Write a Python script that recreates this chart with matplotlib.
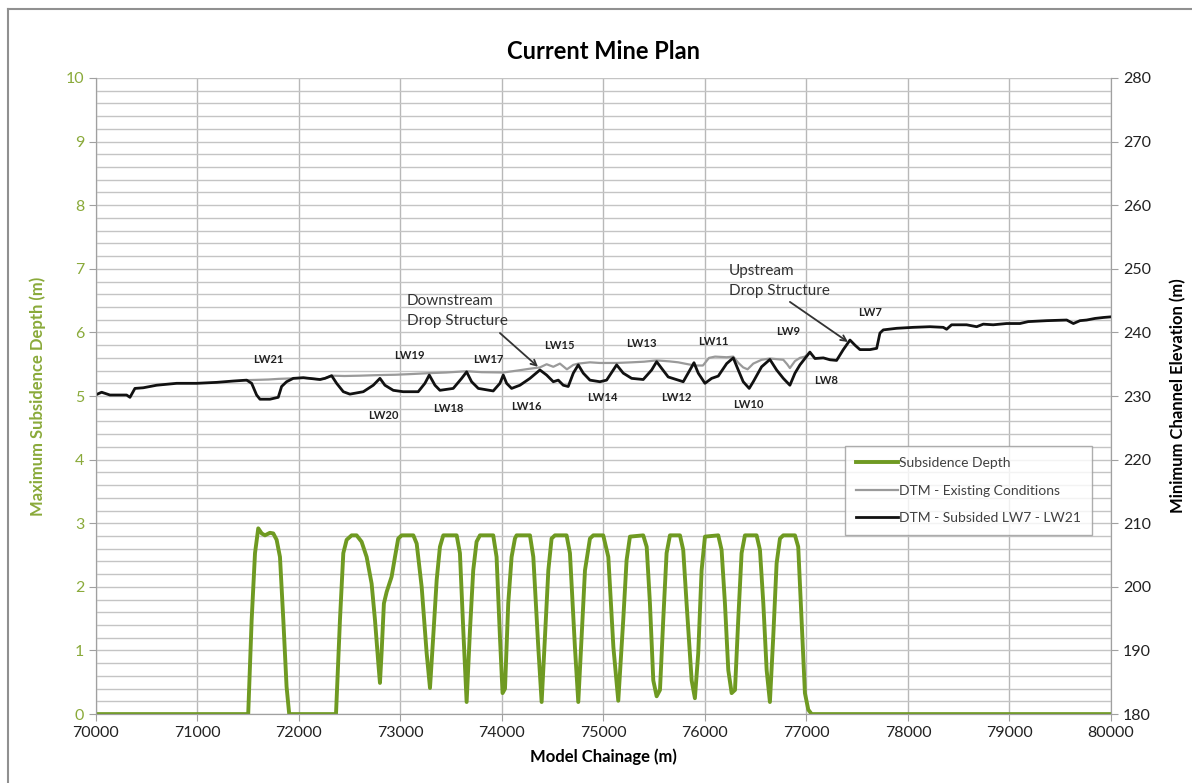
import matplotlib.pyplot as plt
from matplotlib.lines import Line2D
import numpy as np

plt.rcParams['font.family'] = ['Lato', 'DejaVu Sans']

# subsidence depth (m) along chainage
sub_chain = [70000, 71500, 71534, 71567, 71599, 71633, 71665, 71714, 71747, 71780, 71813, 71846,
             71878, 71904, 72365, 72404, 72437, 72470, 72519, 72568, 72617, 72667, 72716, 72749,
             72782, 72798, 72814, 72837, 72864, 72913, 72946, 72978, 73012, 73127, 73160, 73209,
             73258, 73291, 73323, 73357, 73389, 73422, 73554, 73586, 73619, 73652, 73685, 73717,
             73750, 73783, 73914, 73947, 73980, 74006, 74030, 74062, 74095, 74128, 74144, 74276,
             74309, 74358, 74391, 74424, 74457, 74489, 74522, 74637, 74670, 74719, 74752, 74785,
             74818, 74867, 74900, 74998, 75048, 75098, 75146, 75195, 75228, 75261, 75392, 75426,
             75458, 75491, 75524, 75557, 75589, 75622, 75655, 75754, 75786, 75819, 75869, 75901,
             75934, 75967, 76000, 76131, 76164, 76197, 76230, 76263, 76296, 76328, 76361, 76394,
             76509, 76542, 76575, 76608, 76640, 76673, 76706, 76739, 76772, 76887, 76919, 76952,
             76985, 77018, 77051, 80000]
sub_depth = [0, 0, 1.48, 2.53, 2.92, 2.84, 2.81, 2.85, 2.84, 2.74, 2.47, 1.48,
             0.43, 0, 0, 1.48, 2.53, 2.74, 2.81, 2.81, 2.71, 2.47, 2.05, 1.48,
             0.80, 0.49, 0.96, 1.74, 1.92, 2.16, 2.47, 2.76, 2.81, 2.81, 2.68, 2.0,
             0.96, 0.41, 1.22, 2.11, 2.63, 2.81, 2.81, 2.53, 1.32, 0.19, 1.32, 2.26,
             2.71, 2.81, 2.81, 2.47, 1.22, 0.33, 0.40, 1.74, 2.47, 2.76, 2.81, 2.81,
             2.47, 1.05, 0.19, 1.22, 2.26, 2.76, 2.81, 2.81, 2.53, 1.05, 0.19, 1.22,
             2.26, 2.76, 2.81, 2.81, 2.47, 1.05, 0.21, 1.48, 2.42, 2.79, 2.81, 2.63,
             1.74, 0.53, 0.28, 0.38, 1.48, 2.53, 2.81, 2.81, 2.58, 1.74, 0.53, 0.25,
             0.96, 2.26, 2.79, 2.81, 2.58, 1.74, 0.69, 0.33, 0.38, 1.48, 2.53, 2.81,
             2.81, 2.58, 1.74, 0.69, 0.19, 1.22, 2.37, 2.76, 2.81, 2.81, 2.63, 1.48,
             0.33, 0.07, 0, 0]

# DTM - existing conditions (visible part, elsewhere under the subsided line)
ex_chain = [71485, 71600, 71700, 71800, 71944, 72043, 72207, 72256, 72322, 72450, 72600, 72798,
            72950, 73100, 73284, 73450, 73652, 73800, 74013, 74150, 74276, 74374, 74440, 74506,
            74571, 74640, 74703, 74752, 74867, 74965, 75130, 75278, 75400, 75524, 75650, 75737,
            75800, 75900, 75980, 76040, 76100, 76214, 76279, 76330, 76377, 76420, 76476, 76558,
            76640, 76706, 76772, 76810, 76837, 76887, 76936, 76985, 77034]
ex_elev = [232.5, 232.55, 232.6, 232.7, 232.78, 232.88, 232.6, 232.78, 233.2, 233.15, 233.2, 233.3,
           233.35, 233.45, 233.6, 233.7, 233.9, 233.75, 233.7, 234.0, 234.3, 234.5, 235.0, 234.6,
           235.1, 234.2, 234.9, 235.1, 235.3, 235.2, 235.2, 235.3, 235.4, 235.6, 235.45, 235.3,
           235.1, 234.8, 234.8, 236.0, 236.2, 236.1, 236.2, 235.2, 234.5, 234.2, 235.1, 235.7,
           235.9, 235.8, 235.7, 235.0, 234.4, 235.5, 236.0, 236.2, 236.9]

# DTM - subsided LW7 - LW21
sb_chain = [70000, 70056, 70138, 70302, 70335, 70384, 70466, 70598, 70795, 70992, 71189, 71353,
            71485, 71534, 71583, 71616, 71714, 71796, 71829, 71878, 71944, 72043, 72207, 72256,
            72322, 72371, 72437, 72502, 72634, 72732, 72798, 72847, 72929, 73027, 73175, 73241,
            73284, 73340, 73389, 73520, 73603, 73652, 73701, 73767, 73914, 73980, 74013, 74046,
            74095, 74177, 74276, 74374, 74440, 74506, 74555, 74604, 74653, 74703, 74752, 74801,
            74867, 74965, 75031, 75130, 75195, 75278, 75392, 75475, 75524, 75573, 75638, 75737,
            75786, 75852, 75892, 75934, 76000, 76066, 76131, 76214, 76279, 76328, 76377, 76436,
            76476, 76558, 76640, 76706, 76772, 76837, 76887, 76936, 76985, 77034, 77084, 77166,
            77232, 77297, 77363, 77429, 77478, 77527, 77626, 77692, 77724, 77757, 77889, 78052,
            78217, 78348, 78381, 78430, 78578, 78677, 78742, 78840, 78972, 79103, 79185, 79367,
            79564, 79630, 79695, 79761, 79843, 79925, 80000]
sb_elev = [230.2, 230.6, 230.16, 230.16, 229.8, 231.2, 231.3, 231.7, 232.0, 232.0, 232.15, 232.36,
           232.5, 232.0, 230.16, 229.5, 229.5, 229.8, 231.5, 232.25, 232.78, 232.88, 232.6, 232.78,
           233.2, 232.0, 230.68, 230.3, 230.68, 231.7, 232.78, 231.7, 230.9, 230.68, 230.68, 232.0,
           233.3, 231.7, 230.9, 231.2, 232.78, 233.8, 232.25, 231.2, 230.8, 232.0, 233.3, 232.0,
           231.2, 231.7, 232.78, 234.1, 233.3, 232.25, 232.5, 231.7, 231.5, 233.6, 234.9, 233.6,
           232.5, 232.25, 232.5, 234.9, 233.6, 232.78, 232.6, 234.1, 235.4, 234.36, 233.0, 232.5,
           232.25, 234.1, 235.24, 233.6, 232.0, 232.78, 233.14, 235.1, 236.0, 234.1, 232.25, 231.2,
           232.25, 234.6, 235.75, 234.1, 232.78, 231.7, 233.6, 234.9, 235.9, 236.9, 235.9, 236.0,
           235.7, 235.6, 237.3, 238.8, 238.0, 237.3, 237.3, 237.5, 239.9, 240.4, 240.65, 240.8,
           240.9, 240.8, 240.5, 241.2, 241.2, 240.9, 241.3, 241.2, 241.4, 241.4, 241.7, 241.85,
           241.95, 241.4, 241.85, 241.95, 242.2, 242.35, 242.45]

# longwall labels: name, chainage, elevation
lw_names = ['LW21', 'LW20', 'LW19', 'LW18', 'LW17', 'LW16', 'LW15', 'LW14',
            'LW13', 'LW12', 'LW11', 'LW10', 'LW9', 'LW8', 'LW7']
lw_chain = [71694, 72827, 73084, 73468, 73862, 74236, 74562, 74985,
            75369, 75714, 76079, 76424, 76818, 77192, 77626]
lw_elev = [235.8, 227.0, 236.4, 228.0, 235.7, 228.4, 237.9, 229.8,
           238.2, 229.7, 238.6, 228.7, 240.2, 232.5, 243.2]

green = '#6f9a22'
tick_green = '#8aaa3a'

fig = plt.figure(figsize=(11.92, 7.83), dpi=100)
ax = fig.add_axes([0.0805, 0.088, 0.8515, 0.8124])
ax2 = ax.twinx()

ax.set_xlim(70000, 80000)
ax.set_ylim(0, 10)
ax2.set_ylim(180, 280)
ax.set_xticks(np.arange(70000, 80001, 1000))
ax.set_yticks(np.arange(0, 11, 1))
ax.set_yticks(np.arange(0, 10.01, 0.2), minor=True)
ax2.set_yticks(np.arange(180, 281, 10))

ax.grid(True, which='major', axis='x', color='#b8b8b8', lw=1)
ax.grid(True, which='both', axis='y', color='#c4c4c4', lw=1)
ax.set_axisbelow(True)

for a in (ax, ax2):
    for s in a.spines.values():
        s.set_color('#a0a0a0')
    a.spines['top'].set_visible(False)

ax.tick_params(axis='x', labelsize=11.5, colors='#a0a0a0', labelcolor='#222222', length=5)
ax.tick_params(axis='y', which='major', labelsize=11.5, colors='#a0a0a0', labelcolor=tick_green, length=5)
ax.tick_params(axis='y', which='minor', length=0)
ax2.tick_params(axis='y', labelsize=11.5, colors='#a0a0a0', labelcolor='#222222', length=5)

ax.plot(sub_chain, sub_depth, color=green, lw=2.8, label='Subsidence Depth')
ax2.plot(ex_chain, ex_elev, color='#9a9a9a', lw=1.6, label='DTM - Existing Conditions')
ax2.plot(sb_chain, sb_elev, color='#111111', lw=2.0, label='DTM - Subsided LW7 - LW21')

for name, c, e in zip(lw_names, lw_chain, lw_elev):
    ax2.text(c, e, name, fontsize=8, fontweight='bold', color='#222222', ha='center', va='center')

# drop structure callouts
ax2.text(73064, 243.4, 'Downstream\nDrop Structure', fontsize=11, color='#333333',
         ha='left', va='center', linespacing=1.5)
ax2.annotate('', xy=(74355, 234.6), xytext=(73980, 239.9),
             arrowprops=dict(arrowstyle='->', color='#333333', lw=1.3, shrinkA=0, shrinkB=0))
ax2.text(76236, 248.1, 'Upstream\nDrop Structure', fontsize=11, color='#333333',
         ha='left', va='center', linespacing=1.5)
ax2.annotate('', xy=(77409, 238.5), xytext=(76837, 244.8),
             arrowprops=dict(arrowstyle='->', color='#333333', lw=1.3, shrinkA=0, shrinkB=0))

ax.set_title('Current Mine Plan', fontsize=17, fontweight='bold', pad=14)
ax.set_xlabel('Model Chainage (m)', fontsize=12, fontweight='bold', labelpad=6)
ax.set_ylabel('Maximum Subsidence Depth (m)', fontsize=12, fontweight='bold', color=tick_green, labelpad=14)
ax2.set_ylabel('Minimum Channel Elevation (m)', fontsize=12, fontweight='bold', labelpad=14)

h1, l1 = ax.get_legend_handles_labels()
h2, l2 = ax2.get_legend_handles_labels()
leg = ax2.legend(h1 + h2, l1 + l2, loc='upper left', bbox_to_anchor=(0.731, 0.432),
                 fontsize=10, frameon=True, fancybox=False, handlelength=3.0,
                 labelspacing=1.1, borderpad=0.8, handletextpad=0.1)
leg.get_frame().set_edgecolor('#9a9a9a')
leg.get_frame().set_linewidth(1.0)
for t in leg.get_texts():
    t.set_color('#404040')

# chart area border
fig.add_artist(Line2D([8 / 1192, 8 / 1192], [0, 1 - 9 / 783], color='#909090', lw=1.5))
fig.add_artist(Line2D([8 / 1192, 1], [1 - 9 / 783, 1 - 9 / 783], color='#909090', lw=1.5))

fig.savefig('out.png', dpi=100)
